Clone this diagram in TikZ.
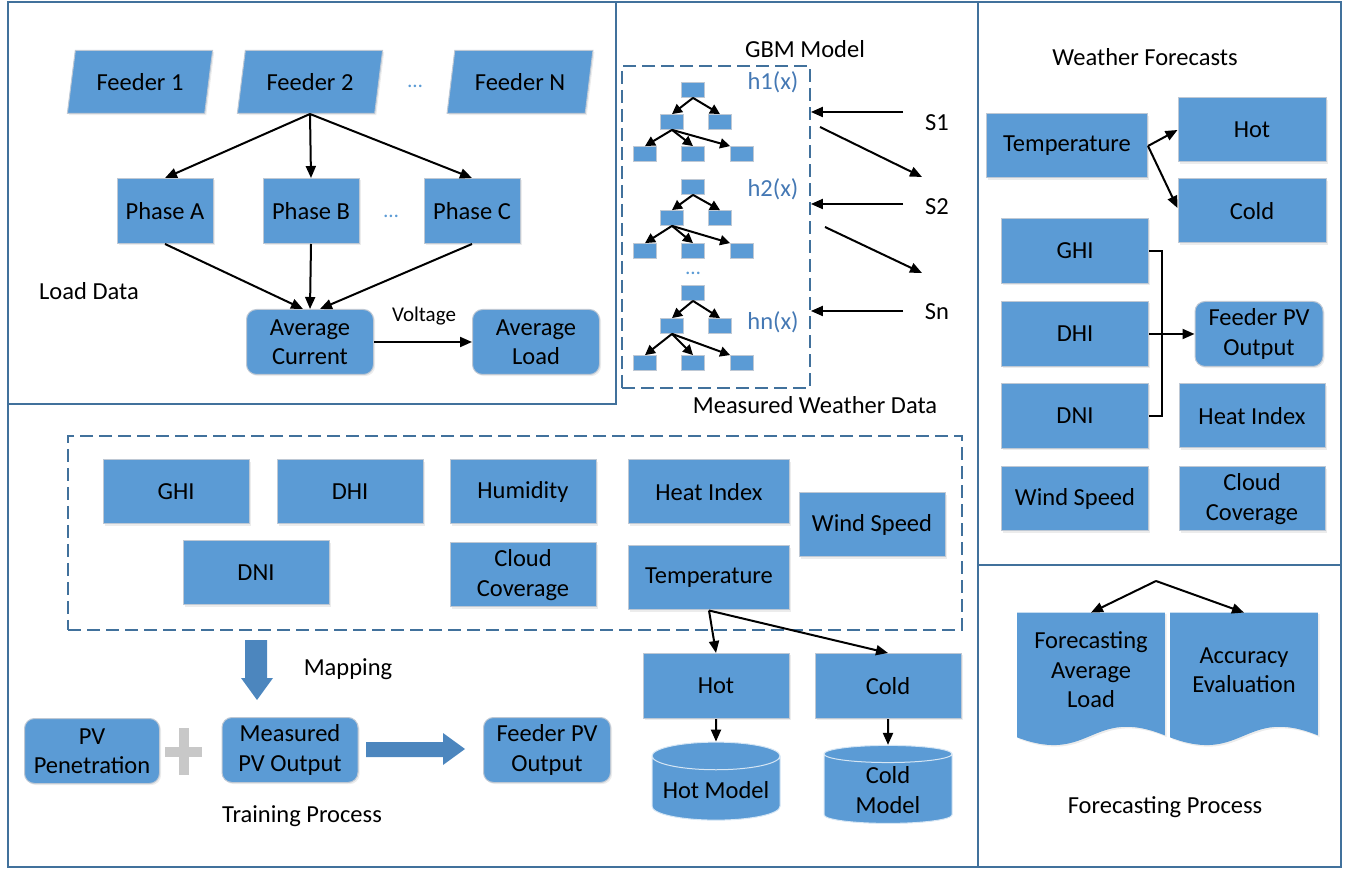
\documentclass[tikz,border=0pt]{standalone}
\usepackage{fontspec}
\setmainfont{Carlito}
\usetikzlibrary{arrows.meta, positioning, shapes.geometric, shadows, backgrounds}

\definecolor{boxblue}{RGB}{91,155,213}
\definecolor{boxedge}{RGB}{190,200,212}
\definecolor{panelblue}{RGB}{65,113,156}
\definecolor{tagblue}{RGB}{68,120,180}
\definecolor{fatarrow}{RGB}{76,134,190}
\definecolor{plusgray}{RGB}{200,200,200}

\newcommand{\boxfont}{\fontsize{12.25}{14.7}\selectfont}
\newcommand{\smallfont}{\fontsize{10.5}{12}\selectfont}

\begin{document}
\begin{tikzpicture}[x=0.5pt, y=-0.5pt,
    box/.style={rectangle, fill=boxblue, draw=boxedge, line width=0.5pt, minimum width=73pt, minimum height=32pt, align=center, inner sep=2pt, font=\boxfont, drop shadow={opacity=0.15, shadow xshift=0.8pt, shadow yshift=-0.8pt}},
    rbox/.style={box, rounded corners=5pt},
    feeder/.style={box, trapezium, trapezium left angle=77, trapezium right angle=103, trapezium stretches=true, minimum width=73pt, minimum height=31.5pt},
    leaf/.style={rectangle, fill=boxblue, draw=boxedge, line width=0.4pt, minimum width=11.5pt, minimum height=7.5pt, inner sep=0pt},
    cyl/.style={cylinder, shape border rotate=90, aspect=0.25, draw=white!75!boxblue, line width=0.5pt, cylinder uses custom fill, cylinder body fill=boxblue, cylinder end fill=boxblue, minimum width=64pt, minimum height=39pt, align=center, inner sep=1pt, font=\boxfont},
    docbox/.style={rectangle, minimum width=73.5pt, minimum height=57pt, align=center, inner sep=1pt, font=\boxfont},
    txt/.style={font=\boxfont, inner sep=1pt},
    dots/.style={font=\smallfont, text=boxblue, inner sep=1pt},
    tag/.style={font=\boxfont, text=tagblue, inner sep=1pt},
    arr/.style={-{Triangle[length=6pt, width=5pt]}, line width=1pt},
    tarr/.style={-{Triangle[length=5pt, width=5pt]}, line width=1pt},
    panel/.style={draw=panelblue, line width=1.2pt},
    dashbox/.style={draw=panelblue, line width=0.9pt, dash pattern=on 6.5pt off 3pt, inner sep=0pt}
]
\useasboundingbox (0,0) rectangle (1348,870);

% outer frames
\draw[panel] (8,2) rectangle (978,867);
\draw[panel] (8,2) rectangle (616,404);
\draw[panel] (978,2) rectangle (1341,565);
\draw[panel] (978,565) rectangle (1341,867);

% load data
\node[feeder] (f1) at (140,82) {Feeder 1};
\node[feeder] (f2) at (310,82) {Feeder 2};
\node[feeder] (fn) at (520,82) {Feeder N};
\node[dots] (fdots) at (415,86) {\ldots};
\node[box, minimum width=48pt, minimum height=32.5pt] (pha) at (165,211) {Phase A};
\node[box, minimum width=48pt, minimum height=32.5pt] (phb) at (311,211) {Phase B};
\node[box, minimum width=48pt, minimum height=32.5pt] (phc) at (472,211) {Phase C};
\node[dots] (pdots) at (391,216) {\ldots};
\node[rbox, minimum width=63.5pt, minimum height=32.5pt] (avgcur) at (310,342) {Average\\Current};
\node[rbox, minimum width=63.5pt, minimum height=32.5pt] (avgload) at (536,342) {Average\\Load};
\node[txt] (loaddata) at (89,291) {Load Data};
\node[txt, font=\smallfont] (volt) at (424,316) {Voltage};

\draw[arr] (f2.south) -- (pha.north);
\draw[arr] (f2.south) -- (phb.north);
\draw[arr] (f2.south) -- (phc.north);
\draw[arr] (pha.south) -- ([xshift=-3.5pt]avgcur.north);
\draw[arr] (phb.south) -- (avgcur.north);
\draw[arr] (phc.south) -- ([xshift=5pt]avgcur.north);
\draw[arr] (avgcur.east) -- (avgload.west);

% boosted trees
\node[txt] (gbmtitle) at (805,49) {GBM Model};
\node[dashbox, minimum width=94pt, minimum height=161pt] (gbm) at (716,227) {};
\foreach \k/\ya/\yb/\yc in {1/90/122/154, 2/187/218/251, 3/293/326/363} {
    \node[leaf] (r\k) at (693,\ya) {};
    \node[leaf] (l\k) at (672,\yb) {};
    \node[leaf] (m\k) at (720,\yb) {};
    \node[leaf] (a\k) at (645,\yc) {};
    \node[leaf] (b\k) at (693,\yc) {};
    \node[leaf] (c\k) at (742,\yc) {};
    \draw[tarr] (r\k.south) -- (l\k.north);
    \draw[tarr] (r\k.south) -- (m\k.north);
    \draw[tarr] (l\k.south) -- (a\k.north);
    \draw[tarr] (l\k.south) -- (b\k.north);
    \draw[tarr] (l\k.south) -- (c\k.north west);
}
\node[tag] (h1) at (773,82) {h1(x)};
\node[tag] (h2) at (773,189) {h2(x)};
\node[tag] (hn) at (773,322) {hn(x)};
\node[dots] (tdots) at (693,273) {\ldots};
\node[txt] (s1) at (937,123) {S1};
\node[txt] (s2) at (937,207) {S2};
\node[txt] (sn) at (937,312) {Sn};
\node[txt] (mwd) at (815,405) {Measured Weather Data};

\coordinate (s1a) at (903,112);
\coordinate (s2a) at (903,204);
\coordinate (sna) at (903,311);
\draw[arr] (s1a) -- (s1a -| gbm.east);
\draw[arr] (s2a) -- (s2a -| gbm.east);
\draw[arr] (sna) -- (sna -| gbm.east);
\coordinate (g1) at (820,127);
\coordinate (g1s) at (922,177);
\coordinate (g2) at (825,227);
\coordinate (g2s) at (922,273);
\draw[arr] (g1) -- (g1s);
\draw[arr] (g2) -- (g2s);

% measured weather variables
\node[dashbox, minimum width=447pt, minimum height=97pt] (wdata) at (515,533) {};
\node[box] (ghi) at (176,492) {GHI};
\node[box] (dhi) at (350,492) {DHI};
\node[box] (hum) at (523,492) {Humidity};
\node[box] (dni) at (256,573) {DNI};
\node[box] (cloud) at (523,575) {Cloud\\Coverage};
\node[box, minimum width=80.5pt] (heat) at (709,492) {Heat Index};
\node[box] (wind) at (872,525) {Wind Speed};
\node[box, minimum width=80.5pt] (temp) at (709,578) {Temperature};
\node[box, minimum height=32.5pt] (hot) at (716,686) {Hot};
\node[box, minimum height=32.5pt] (cold) at (888,686) {Cold};
\node[cyl] (hotm) at (716,790) {Hot Model};
\node[cyl] (coldm) at (888,790) {Cold\\Model};

\draw[arr] (temp.south) -- (hot.north);
\draw[arr] (temp.south) -- (cold.north);
\draw[arr] (hot.south) -- (hotm.north);
\draw[arr] (cold.south) -- (coldm.north);

% training
\fill[fatarrow] (245,640) -- (267,640) -- (267,678) -- (273,678) -- (257,700) -- (241,678) -- (245,678) -- cycle;
\node[txt] (mapping) at (348,669) {Mapping};
\node[rbox, minimum width=67.5pt, minimum height=32.5pt] (pvpen) at (92,751) {PV\\Penetration};
\draw[plusgray, line width=5pt] (165,752) -- (202,752) (183.5,728) -- (183.5,775);
\node[rbox, minimum width=68pt, minimum height=32.5pt] (mpv) at (290,750) {Measured\\PV Output};
\fill[fatarrow] (366,742) -- (443,742) -- (443,733) -- (465,749) -- (443,765) -- (443,757) -- (366,757) -- cycle;
\node[rbox, minimum width=63.5pt, minimum height=32.5pt] (fpv) at (547,750) {Feeder PV\\Output};
\node[txt] (training) at (302,816) {Training Process};

% weather forecasts
\node[txt] (wf) at (1145,57) {Weather Forecasts};
\node[box, minimum width=80.5pt] (temp2) at (1067,146) {Temperature};
\node[box, minimum width=74pt] (hot2) at (1252,130) {Hot};
\node[box, minimum width=74pt] (cold2) at (1252,211) {Cold};
\node[box, minimum width=73.5pt, minimum height=32.5pt] (ghi2) at (1075,251) {GHI};
\node[box, minimum width=73.5pt, minimum height=32.5pt] (dhi2) at (1075,334) {DHI};
\node[box, minimum width=73.5pt, minimum height=32.5pt] (dni2) at (1075,416) {DNI};
\node[rbox, minimum width=64pt, minimum height=32.5pt] (fpv2) at (1259,334) {Feeder PV\\Output};
\node[box] (heat2) at (1252,416) {Heat Index};
\node[box, minimum width=73.5pt] (wind2) at (1075,499) {Wind Speed};
\node[box] (cloud2) at (1252,499) {Cloud\\Coverage};

\draw[arr] (temp2.east) -- (hot2.west);
\draw[arr] (temp2.east) -- ([yshift=1.5pt]cold2.west);
\draw[line width=1pt] (ghi2.east) -- ++(13,0) |- (dni2.east);
\draw[arr] (dhi2.east) -- (fpv2.west);

% forecasting
\node[docbox] (fal) at (1091,670) {Forecasting\\Average\\Load};
\node[docbox] (acc) at (1244,670) {Accuracy\\Evaluation};
\coordinate (fork) at (1156,581);
\draw[arr] (fork) -- (fal.north);
\draw[arr] (fork) -- (acc.north);
\node[txt] (fproc) at (1165,807) {Forecasting Process};

\begin{scope}[on background layer]
    \foreach \d in {fal, acc}
        \fill[boxblue, drop shadow={opacity=0.15, shadow xshift=0.8pt, shadow yshift=-0.8pt}]
            (\d.north west) -- (\d.north east) -- ([yshift=-4pt]\d.south east)
            .. controls ([yshift=11pt]\d.south) and ([yshift=-19pt]\d.south)
            .. ([yshift=-5pt]\d.south west) -- cycle;
\end{scope}
\end{tikzpicture}
\end{document}
